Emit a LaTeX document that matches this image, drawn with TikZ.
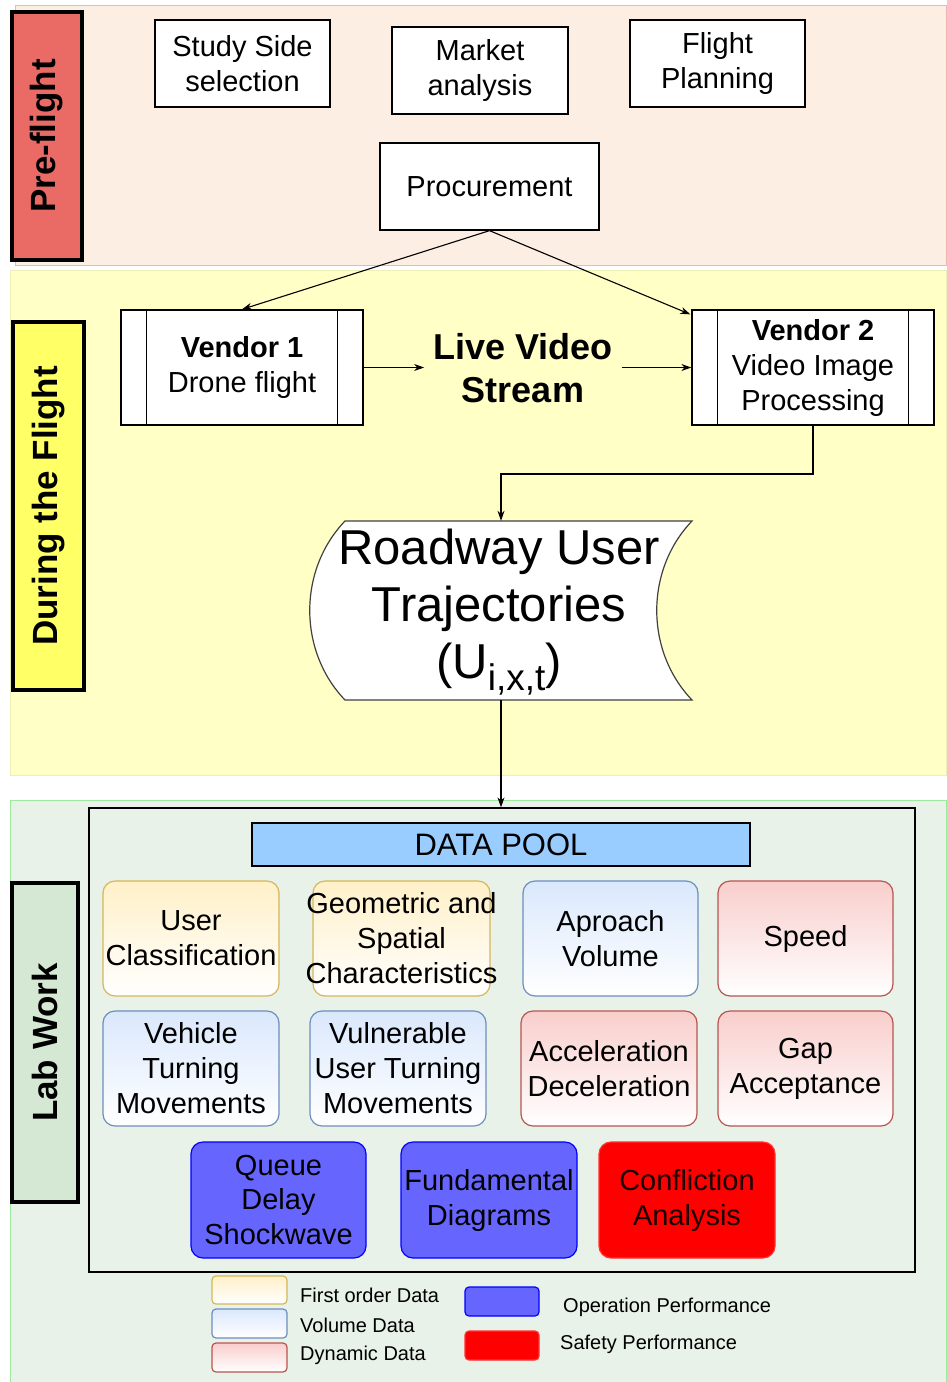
\documentclass[tikz,border=0pt]{standalone}
\usepackage{fontspec}
\setmainfont{Liberation Sans}
\usetikzlibrary{arrows.meta,calc}

\definecolor{peachband}{HTML}{FDEEE3}
\definecolor{peachline}{HTML}{F4B2B0}
\definecolor{preLabel}{HTML}{EA6B66}
\definecolor{yellowband}{HTML}{FFFFC6}
\definecolor{yellowline}{HTML}{EEEEB8}
\definecolor{duringLabel}{HTML}{FFFF66}
\definecolor{greenband}{HTML}{E8F2E8}
\definecolor{greenline}{HTML}{9CE89C}
\definecolor{labLabel}{HTML}{D5E8D4}
\definecolor{poolblue}{HTML}{99CCFF}
\definecolor{foT}{HTML}{FFF0C8}
\definecolor{foB}{HTML}{D6B656}
\definecolor{voT}{HTML}{DAE8FC}
\definecolor{voB}{HTML}{6C8EBF}
\definecolor{dyT}{HTML}{F8CECC}
\definecolor{dyB}{HTML}{B85450}
\definecolor{opF}{HTML}{6666FF}
\definecolor{opB}{HTML}{0000FF}
\definecolor{saF}{HTML}{FF0000}
\definecolor{saB}{HTML}{FF3333}

\newcommand\fs[2]{\fontsize{#1}{#2}\selectfont}
% rounded data box with its text set on top, so long lines may overhang the frame
\newcommand\databox[4]{%
  \node[#1] (#2) at (#3) {};
  \node[align=center, font=\fs{29}{35}, inner sep=0pt] at (#2) {#4};}

\begin{document}
\begin{tikzpicture}[x=1pt, y=-1pt,
  conn/.style={line width=1.1pt, -{Stealth[length=10pt, width=7pt]}},
  band/.style={line width=1pt},
  phase/.style={draw=black, line width=4pt, inner sep=0pt, rotate=90,
    font=\fs{35}{40}\bfseries},
  topbox/.style={draw=black, line width=1.3pt, fill=white, inner sep=0pt,
    align=center, font=\fs{29}{35}, minimum width=175pt, minimum height=87pt},
  procbox/.style={draw=black, line width=1.3pt, fill=white, inner sep=0pt,
    align=center, font=\fs{29}{35}, minimum width=242pt, minimum height=115pt},
  dbox/.style={rounded corners=12pt, line width=1.2pt, inner sep=0pt,
    minimum width=176pt, minimum height=115pt},
  fo/.style={dbox, draw=foB, top color=foT, bottom color=white},
  vo/.style={dbox, draw=voB, top color=voT, bottom color=white},
  dy/.style={dbox, draw=dyB, top color=dyT, bottom color=white},
  op/.style={dbox, draw=opB, fill=opF, minimum height=116pt},
  sa/.style={dbox, draw=saB, fill=saF, minimum height=116pt},
  legbox/.style={rounded corners=4pt, line width=1.2pt, inner sep=0pt,
    minimum width=75pt, minimum height=28pt},
  legtext/.style={anchor=west, inner sep=0pt, font=\fs{20}{24}}
]
\useasboundingbox (0,0) rectangle (947,1382);

% ---- phase bands ----
\fill[white] (0,0) rectangle (947,1382);
\draw[band, draw=peachline, fill=peachband] (15,5) rectangle (946,265);
\draw[band, draw=yellowline, fill=yellowband] (10,270) rectangle (946,775);
\draw[band, draw=greenline, fill=greenband] (10,800) rectangle (946,1382);

\node[phase, fill=preLabel, minimum width=248pt, minimum height=70pt] (lpre) at (47,136) {Pre-flight};
\node[phase, fill=duringLabel, minimum width=368pt, minimum height=71pt] (ldur) at (48.5,506) {During the Flight};
\node[phase, fill=labLabel, minimum width=319pt, minimum height=66pt] (llab) at (45,1042.5) {Lab Work};

% ---- pre-flight ----
\node[topbox] (study) at (242.5,63.5) {Study Side\\selection};
\node[topbox, minimum width=176pt] (market) at (480,70.5) {Market\\analysis};
\node[topbox] (flight) at (717.5,63.5) {Flight\\Planning};
\node[topbox, minimum width=219pt] (proc) at (489.5,186.5) {Procurement};

% ---- during the flight ----
\node[procbox] (v1) at (242,367.5) {\textbf{Vendor 1}\\Drone flight};
\node[procbox] (v2) at (813,367.5) {\textbf{Vendor 2}\\Video Image\\Processing};
\foreach \b in {v1,v2}{
  \draw[line width=1.1pt] ($(\b.north west)+(26,0)$) -- ($(\b.south west)+(26,0)$);
  \draw[line width=1.1pt] ($(\b.north east)+(-26,0)$) -- ($(\b.south east)+(-26,0)$);
}
\node[align=center, font=\fs{36}{43}\bfseries, inner xsep=9pt, inner ysep=0pt] (live) at (523,368) {Live Video\\Stream};

% stored-data shape for the trajectories
\draw[line width=1.2pt, draw=black!75, fill=white]
  (345,521) -- (692,521) .. controls (645,570) and (645,651) .. (692,700)
  -- (345,700) .. controls (298,651) and (298,570) .. (345,521) -- cycle;
\node[inner sep=0pt, minimum width=2pt, minimum height=179pt] (traj) at (501,610.5) {};
\node[align=center, font=\fs{49}{57}, inner sep=0pt] (trajtext) at (499,609)
  {Roadway User\\Trajectories\\(U\smash{\raisebox{-12pt}{\fs{37}{37}\selectfont i,x,t}})};

\coordinate (turn) at (501,474);
\draw[conn] (proc.south) -- (v1.north);
\draw[conn] (proc.south) -- ($(v2.north west)+(-1,5)$);
\draw[conn] (v1.east) -- (v1.east -| live.west);
\draw[conn] (v2.west -| live.east) -- (v2.west);
\draw[conn] (v2.south) |- (turn) -- (traj.north);

% ---- lab work ----
\node[draw=black, line width=1.3pt, inner sep=0pt, minimum width=826pt, minimum height=464pt] (pool) at (502,1040) {};
\draw[conn] (traj.south) -- (traj.south |- pool.north);

\node[draw=black, line width=1.2pt, fill=poolblue, minimum width=498pt, minimum height=43pt,
  inner sep=0pt, font=\fs{31}{36}] (dp) at (501,844.5) {DATA POOL};

\databox{fo}{uc}{191,938.5}{User\\Classification}
\databox{fo, minimum width=177pt}{geo}{401.5,938.5}{Geometric and\\Spatial\\Characteristics}
\databox{vo, minimum width=175pt}{appr}{610.5,938.5}{Aproach\\Volume}
\databox{dy, minimum width=175pt}{speed}{805.5,938.5}{Speed}

\databox{vo}{veh}{191,1068.5}{Vehicle\\Turning\\Movements}
\databox{vo}{vul}{398,1068.5}{Vulnerable\\User Turning\\Movements}
\databox{dy}{acc}{609,1068.5}{Acceleration\\Deceleration}
\databox{dy, minimum width=175pt}{gap}{805.5,1068.5}{Gap\\Acceptance}

\databox{op, minimum width=175pt}{queue}{278.5,1200}{Queue\\Delay\\Shockwave}
\databox{op}{fund}{489,1200}{Fundamental\\Diagrams}
\databox{sa}{confl}{687,1200}{\color[HTML]{1A0000}Confliction\\\color[HTML]{1A0000}Analysis}

% ---- legend ----
\node[legbox, draw=foB, top color=foT, bottom color=white] (lfo) at (249.5,1290) {};
\node[legbox, draw=voB, top color=voT, bottom color=white, minimum height=29pt] (lvo) at (249.5,1323.5) {};
\node[legbox, draw=dyB, top color=dyT, bottom color=white, minimum height=29pt] (ldy) at (249.5,1357.5) {};
\node[legbox, draw=opB, fill=opF, minimum width=74pt, minimum height=29pt] (lop) at (502,1301.5) {};
\node[legbox, draw=saB, fill=saF, minimum width=74pt, minimum height=29pt] (lsa) at (502,1345.5) {};

\node[legtext] (tfo) at (300,1295) {First order Data};
\node[legtext] (tvo) at (300,1325) {Volume Data};
\node[legtext] (tdy) at (300,1355) {Dynamic Data};
\node[legtext] (top) at (563,1307) {Operation Performance};
\node[legtext] (tsa) at (560,1344) {Safety Performance};
\end{tikzpicture}
\end{document}
